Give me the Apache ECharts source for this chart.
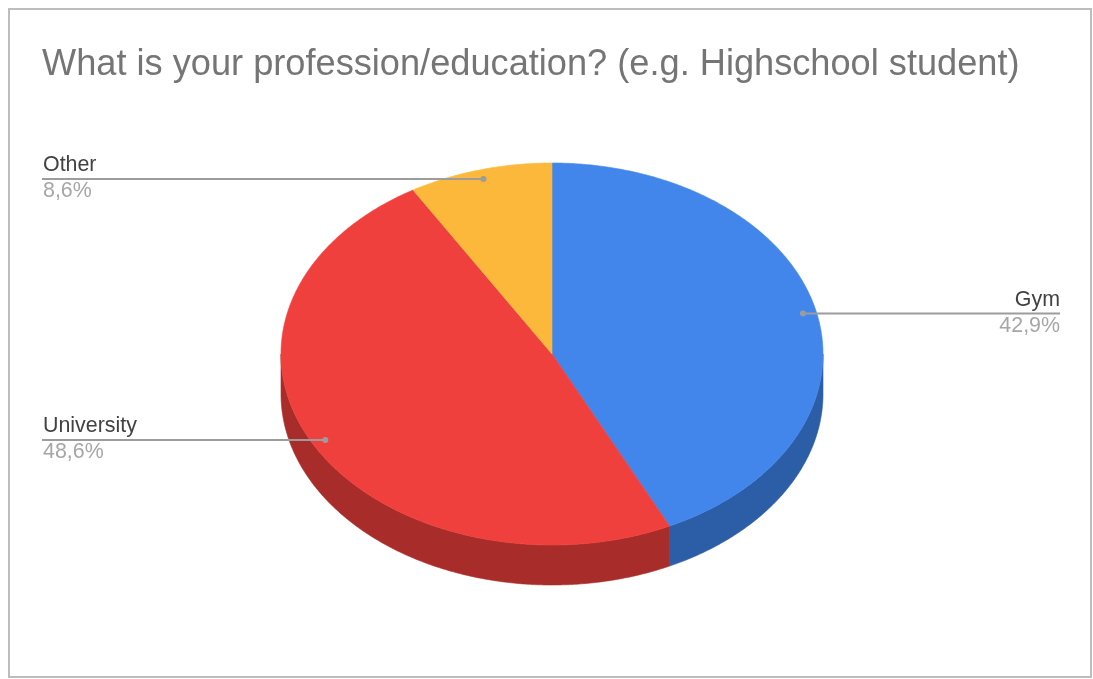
<!DOCTYPE html>
<html>
<head>
<meta charset="utf-8">
<script src="https://cdn.jsdelivr.net/npm/echarts@6/dist/echarts.min.js"></script>
<style>
  html, body { margin: 0; padding: 0; background: #ffffff; }
  #chart { width: 1093px; height: 679px; }
</style>
</head>
<body>
<div id="chart"></div>
<script>
// Survey answers: "What is your profession/education?"
const titleText = 'What is your profession/education? (e.g. Highschool student)';
const categories = ['Gym', 'University', 'Other'];
const counts = [15, 17, 3];
const topColors = ['#4286ec', '#f0403d', '#fbb83b'];
const sideColors = ['#2c5ea8', '#a82d2a', '#b5842a'];

const FONT = '"Liberation Sans", Arial, sans-serif';

// Tilted pie geometry (pixel layout of the drawing area)
const PIE = { cx: 552, cy: 354, rx: 271, ry: 191, depth: 40 };
const LABEL_LEFT_X = 42;
const LABEL_RIGHT_X = 1060;

const total = counts.reduce((a, b) => a + b, 0);

function rimPoint(theta, dy, f) {
  f = f == null ? 1 : f;
  return [
    PIE.cx + f * PIE.rx * Math.sin(theta),
    PIE.cy - f * PIE.ry * Math.cos(theta) + (dy || 0)
  ];
}

function arc(a, b, dy) {
  const pts = [];
  const steps = Math.max(2, Math.ceil(Math.abs(b - a) / (Math.PI / 360)));
  for (let s = 0; s <= steps; s++) {
    pts.push(rimPoint(a + (b - a) * s / steps, dy));
  }
  return pts;
}

function formatPct(v) {
  return (v / total * 100).toFixed(1).replace('.', ',') + '%';
}

function renderSlice(params, api) {
  const i = params.dataIndex;
  const value = api.value(0);
  let before = 0;
  for (let k = 0; k < i; k++) before += counts[k];
  const t0 = before / total * Math.PI * 2;
  const t1 = (before + value) / total * Math.PI * 2;

  const children = [];

  // Front wall of the slice (only the part facing the viewer)
  const a = Math.max(t0, Math.PI / 2);
  const b = Math.min(t1, Math.PI * 3 / 2);
  if (b > a) {
    const wall = arc(a, b, 0).concat(arc(b, a, PIE.depth));
    children.push({
      type: 'polygon', z2: 1,
      shape: { points: wall },
      style: { fill: sideColors[i], stroke: sideColors[i], lineWidth: 0.6 }
    });
  }

  // Top face
  const face = [[PIE.cx, PIE.cy]].concat(arc(t0, t1, 0));
  children.push({
    type: 'polygon', z2: 5,
    shape: { points: face },
    style: { fill: topColors[i], stroke: topColors[i], lineWidth: 0.6 }
  });

  // Leader line and label
  const mid = (t0 + t1) / 2;
  const dot = rimPoint(mid, 0, 0.95);
  const right = Math.sin(mid) > 0;
  const endX = right ? LABEL_RIGHT_X : LABEL_LEFT_X;
  children.push({
    type: 'line', z2: 10,
    shape: { x1: dot[0], y1: dot[1], x2: endX, y2: dot[1] },
    style: { stroke: '#9c9c9c', lineWidth: 2 }
  });
  children.push({
    type: 'circle', z2: 11,
    shape: { cx: dot[0], cy: dot[1], r: 3 },
    style: { fill: '#9c9c9c' }
  });
  const align = right ? 'right' : 'left';
  children.push({
    type: 'text', z2: 12,
    x: right ? LABEL_RIGHT_X : LABEL_LEFT_X + 1, y: dot[1] - 14,
    style: {
      text: categories[i], font: '21.4px ' + FONT, fill: '#424242',
      align: align, textAlign: align, verticalAlign: 'middle', textVerticalAlign: 'middle'
    }
  });
  children.push({
    type: 'text', z2: 12,
    x: right ? LABEL_RIGHT_X : LABEL_LEFT_X + 1, y: dot[1] + 12.5,
    style: {
      text: formatPct(value), font: '21.4px ' + FONT, fill: '#a6a6a6',
      align: align, textAlign: align, verticalAlign: 'middle', textVerticalAlign: 'middle'
    }
  });

  return { type: 'group', children: children };
}

const chart = echarts.init(document.getElementById('chart'), null, { renderer: 'canvas' });
chart.setOption({
  animation: false,
  backgroundColor: '#ffffff',
  title: {
    text: titleText,
    left: 42,
    top: 47,
    padding: 0,
    textStyle: { fontFamily: FONT, fontSize: 36.2, fontWeight: 'normal', color: '#757575' }
  },
  graphic: [{
    type: 'rect', silent: true, z: -1,
    shape: { x: 9, y: 9, width: 1082, height: 668 },
    style: { fill: 'none', stroke: '#bdbdbd', lineWidth: 2 }
  }],
  series: [{
    type: 'custom',
    coordinateSystem: 'none',
    silent: true,
    renderItem: renderSlice,
    data: counts.map((v, i) => ({ name: categories[i], value: v }))
  }]
});
</script>
</body>
</html>
